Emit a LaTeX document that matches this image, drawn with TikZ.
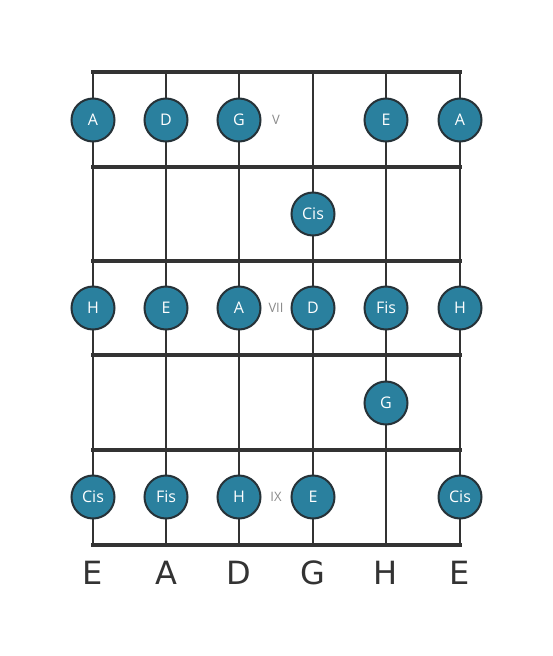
\documentclass[tikz,border=0pt]{standalone}
\usepackage{fontspec}
\setmainfont{DejaVu Sans}
\newfontfamily\notefont{Open Sans}
\definecolor{dotfill}{HTML}{2A809E}
\definecolor{dotline}{HTML}{263238}
\definecolor{gridline}{HTML}{333333}
\definecolor{markgray}{HTML}{8A8A8A}
\begin{document}
\begin{tikzpicture}[x=1pt,y=-1pt,
  note/.style={circle,draw=dotline,line width=2pt,fill=dotfill,minimum size=43pt,inner sep=0pt,text=white,font=\notefont\fontsize{16}{16}\selectfont},
  fretline/.style={draw=gridline,line width=4pt},
  stringline/.style={draw=gridline,line width=2pt},
  marker/.style={text=markgray,font=\notefont\fontsize{13}{13}\selectfont},
  tuning/.style={text=gridline,font=\fontsize{32}{32}\selectfont}]
\useasboundingbox (0,0) rectangle (553,656);
% strings
\foreach \x in {93,166,239,313,386,460} \draw[stringline] (\x,72) -- (\x,545);
% frets
\foreach \y in {72,167,261,355,450,545} \draw[fretline] (91,\y) -- (462,\y);
% markers
\node[marker] (m5) at (276,120) {V};
\node[marker] (m7) at (276,308) {VII};
\node[marker] (m9) at (276,497) {IX};
% row 1
\node[note] (r1a) at (93,120) {A};
\node[note] (r1b) at (166,120) {D};
\node[note] (r1c) at (239,120) {G};
\node[note] (r1e) at (386,120) {E};
\node[note] (r1f) at (460,120) {A};
% row 2
\node[note] (r2d) at (313,214) {Cis};
% row 3
\node[note] (r3a) at (93,308) {H};
\node[note] (r3b) at (166,308) {E};
\node[note] (r3c) at (239,308) {A};
\node[note] (r3d) at (313,308) {D};
\node[note] (r3e) at (386,308) {Fis};
\node[note] (r3f) at (460,308) {H};
% row 4
\node[note] (r4e) at (386,403) {G};
% row 5
\node[note] (r5a) at (93,497) {Cis};
\node[note] (r5b) at (166,497) {Fis};
\node[note] (r5c) at (239,497) {H};
\node[note] (r5d) at (313,497) {E};
\node[note] (r5f) at (460,497) {Cis};
% tuning
\node[tuning] (t1) at (93,573) {E};
\node[tuning] (t2) at (166,573) {A};
\node[tuning] (t3) at (239,573) {D};
\node[tuning] (t4) at (313,573) {G};
\node[tuning] (t5) at (386,573) {H};
\node[tuning] (t6) at (460,573) {E};
\end{tikzpicture}
\end{document}
